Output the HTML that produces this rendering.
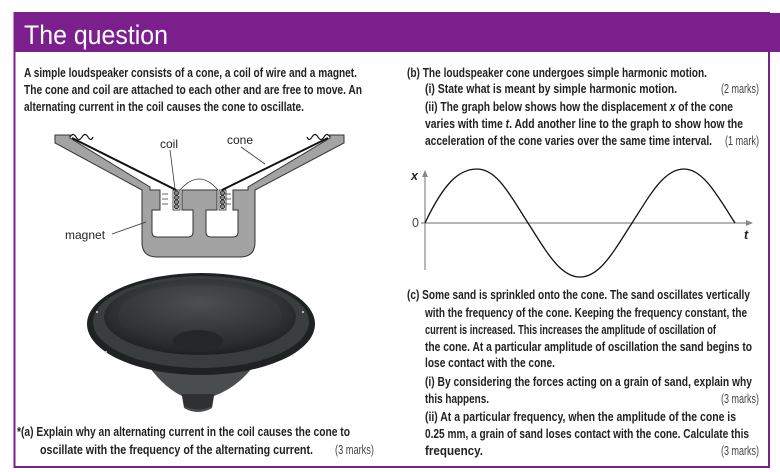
<!DOCTYPE html>
<html><head><meta charset="utf-8"><style>
html,body{margin:0;padding:0;background:#fff;}
svg{display:block;}
text{font-family:"Liberation Sans",sans-serif;font-weight:bold;font-size:12.5px;fill:#222;}
.m{font-weight:normal;fill:#444;}
.l{font-weight:normal;font-size:12px;fill:#222;}
</style></head><body>
<svg width="780" height="472" viewBox="0 0 780 472" xmlns="http://www.w3.org/2000/svg">
<defs>
<radialGradient id="rim" cx="50%" cy="40%" r="60%"><stop offset="0" stop-color="#5a5d5e"/><stop offset="1" stop-color="#1e2021"/></radialGradient>
<radialGradient id="cone" cx="50%" cy="30%" r="70%"><stop offset="0" stop-color="#4c4f50"/><stop offset="1" stop-color="#2a2c2d"/></radialGradient>
</defs>
<!-- frame -->
<rect x="14.5" y="13" width="754.5" height="454" fill="none" stroke="#7b1f8c" stroke-width="2"/>
<rect x="14" y="13" width="766" height="39" fill="#7b1f8c"/>
<text x="24" y="44" style="font-weight:normal;font-size:27px;fill:#fff" textLength="144" lengthAdjust="spacingAndGlyphs">The question</text>

<!-- left intro -->
<text x="24" y="77" textLength="333" lengthAdjust="spacingAndGlyphs">A simple loudspeaker consists of a cone, a coil of wire and a magnet.</text>
<text x="24" y="94" textLength="338" lengthAdjust="spacingAndGlyphs">The cone and coil are attached to each other and are free to move. An</text>
<text x="24" y="111" textLength="280" lengthAdjust="spacingAndGlyphs">alternating current in the coil causes the cone to oscillate.</text>

<!-- diagram -->
<g stroke="#333" stroke-width="1" fill="#a3a3a3">
<path d="M55,135 L70,135 L70,138 L150,187 L150,190 L160,190 L160,210 L152,210 L152,232 Q152,237 157,237 L188,237 Q193,237 193,232 L193,210 L182,210 L182,190 L217,190 L217,210 L206,210 L206,232 Q206,237 211,237 L233,237 Q238,237 238,232 L238,210 L233,210 L233,190 L248,190 L248,187 L330,138 L330,135 L344,135 L344,143 L255,190 L255,242 Q255,257 240,257 L157,257 Q142,257 142,242 L142,190 L55,143 Z"/>
</g>
<path d="M180,190 Q199,168 218,190" fill="none" stroke="#333" stroke-width="0.8"/>
<g fill="#888" stroke="#222" stroke-width="0.8">
<rect x="173" y="190" width="7" height="20" fill="#fff"/>
<circle cx="176.5" cy="193" r="2.2"/><circle cx="176.5" cy="197.5" r="2.2"/><circle cx="176.5" cy="202" r="2.2"/><circle cx="176.5" cy="206.5" r="2.2"/>
<rect x="219" y="190" width="7" height="20" fill="#fff"/>
<circle cx="222.5" cy="193" r="2.2"/><circle cx="222.5" cy="197.5" r="2.2"/><circle cx="222.5" cy="202" r="2.2"/><circle cx="222.5" cy="206.5" r="2.2"/>
</g>
<g stroke="#333" stroke-width="0.8" fill="none">
<path d="M162,194h6M162,199h6M162,204h6M231,194h-6M231,199h-6M231,204h-6"/>
</g>
<g stroke="#111" stroke-width="2" fill="none">
<path d="M72,138 L176,190"/>
<path d="M222,190 L328,138"/>
<path d="M70,137 q3,-5 6,0 q3,5 6,0 q3,-5 6,0 q3,5 5,0" stroke-width="1.2"/>
<path d="M330,137 q-3,-5 -6,0 q-3,5 -6,0 q-3,-5 -6,0 q-3,5 -5,0" stroke-width="1.2"/>
</g>
<g stroke="#333" stroke-width="0.8">
<line x1="170" y1="150" x2="175" y2="189"/>
<line x1="241" y1="147" x2="265" y2="164"/>
<line x1="112" y1="234" x2="146" y2="222"/>
</g>
<text class="l" x="160" y="148">coil</text>
<text class="l" x="227" y="144">cone</text>
<text class="l" x="65" y="239">magnet</text>

<!-- speaker photo -->
<path d="M150,368 Q165,388 182,396 L184,408 Q198,416 212,408 L214,396 Q236,388 252,368 Z" fill="#4a4d4e"/>
<path d="M182,394 L184,406 Q198,413 212,406 L214,394 Z" fill="#2e3031"/>
<ellipse cx="201" cy="324" rx="114" ry="51" fill="#1f2122"/>
<ellipse cx="201" cy="322" rx="108" ry="46" fill="#3a3d3e"/>
<ellipse cx="200" cy="317" rx="96" ry="38" fill="url(#rim)"/>
<ellipse cx="200" cy="315" rx="82" ry="30" fill="url(#cone)"/>
<ellipse cx="198" cy="341" rx="25" ry="11" fill="#242627"/>
<circle cx="97" cy="312" r="1" fill="#ddd"/><circle cx="303" cy="312" r="1" fill="#ddd"/><circle cx="106" cy="352" r="1" fill="#ddd"/><circle cx="293" cy="356" r="1" fill="#ddd"/>

<!-- (a) -->
<text x="17" y="436" textLength="333" lengthAdjust="spacingAndGlyphs">*(a)  Explain why an alternating current in the coil causes the cone to</text>
<text x="40" y="454" textLength="273" lengthAdjust="spacingAndGlyphs">oscillate with the frequency of the alternating current.</text>
<text class="m" x="335" y="454" textLength="39" lengthAdjust="spacingAndGlyphs">(3 marks)</text>

<!-- (b) -->
<text x="407" y="77" textLength="300" lengthAdjust="spacingAndGlyphs">(b) The loudspeaker cone undergoes simple harmonic motion.</text>
<text x="425" y="93" textLength="252" lengthAdjust="spacingAndGlyphs">(i)   State what is meant by simple harmonic motion.</text>
<text class="m" x="721" y="93" textLength="38" lengthAdjust="spacingAndGlyphs">(2 marks)</text>
<text x="425" y="111" textLength="308" lengthAdjust="spacingAndGlyphs">(ii)  The graph below shows how the displacement <tspan font-style="italic">x</tspan> of the cone</text>
<text x="425" y="128" textLength="318" lengthAdjust="spacingAndGlyphs">varies with time <tspan font-style="italic">t</tspan>. Add another line to the graph to show how the</text>
<text x="425" y="145" textLength="287" lengthAdjust="spacingAndGlyphs">acceleration of the cone varies over the same time interval.</text>
<text class="m" x="725" y="145" textLength="34" lengthAdjust="spacingAndGlyphs">(1 mark)</text>

<!-- graph -->
<g stroke="#888" stroke-width="1.2" fill="#888">
<line x1="425" y1="175" x2="425" y2="270"/>
<path d="M425,170 l-3,7 h6 z" stroke="none"/>
<line x1="421" y1="223" x2="748" y2="223"/>
<path d="M753,223 l-7,-3 v6 z" stroke="none"/>
</g>
<path d="M425,223 C443,185 458,169 477,169 C497,169 510,195 528,223 C546,251 560,277 580,277 C600,277 614,251 632,223 C650,195 664,169 684,169 C703,169 717,195 735,223" fill="none" stroke="#111" stroke-width="1.3"/>
<text x="411" y="180" font-style="italic">x</text>
<text class="m" x="412" y="227">0</text>
<text x="744" y="239" font-style="italic">t</text>

<!-- (c) -->
<text x="407" y="299" textLength="343" lengthAdjust="spacingAndGlyphs">(c)  Some sand is sprinkled onto the cone. The sand oscillates vertically</text>
<text x="425" y="317" textLength="322" lengthAdjust="spacingAndGlyphs">with the frequency of the cone. Keeping the frequency constant, the</text>
<text x="425" y="334" textLength="291" lengthAdjust="spacingAndGlyphs">current is increased. This increases the amplitude of oscillation of</text>
<text x="425" y="351" textLength="327" lengthAdjust="spacingAndGlyphs">the cone. At a particular amplitude of oscillation the sand begins to</text>
<text x="425" y="367" textLength="130" lengthAdjust="spacingAndGlyphs">lose contact with the cone.</text>
<text x="425" y="386" textLength="327" lengthAdjust="spacingAndGlyphs">(i)   By considering the forces acting on a grain of sand, explain why</text>
<text x="425" y="403" textLength="64" lengthAdjust="spacingAndGlyphs">this happens.</text>
<text class="m" x="721" y="403" textLength="38" lengthAdjust="spacingAndGlyphs">(3 marks)</text>
<text x="425" y="421" textLength="311" lengthAdjust="spacingAndGlyphs">(ii)  At a particular frequency, when the amplitude of the cone is</text>
<text x="425" y="438" textLength="324" lengthAdjust="spacingAndGlyphs">0.25 mm, a grain of sand loses contact with the cone. Calculate this</text>
<text x="425" y="455" textLength="58" lengthAdjust="spacingAndGlyphs">frequency.</text>
<text class="m" x="721" y="455" textLength="38" lengthAdjust="spacingAndGlyphs">(3 marks)</text>
</svg>
</body></html>
